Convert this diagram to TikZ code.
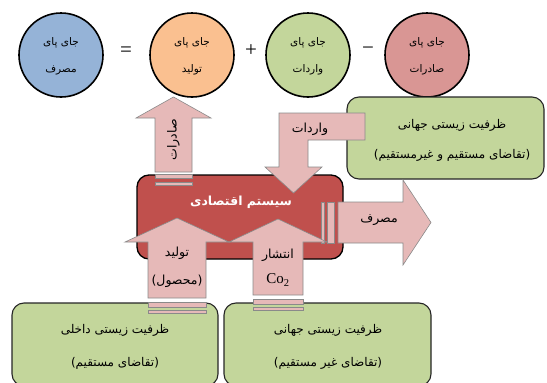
\documentclass[tikz,border=0pt]{standalone}
\usepackage{fontspec}
\setmainfont{Liberation Serif}
\newfontfamily\fa[Script=Arabic]{DejaVu Sans}
\TeXXeTstate=1
\newcommand\fatext[1]{{\fa\beginR #1\endR}}
\definecolor{cblue}{HTML}{95B3D7}
\definecolor{corange}{HTML}{FAC090}
\definecolor{cgreen}{HTML}{C3D69B}
\definecolor{cred}{HTML}{D99694}
\definecolor{csys}{HTML}{C0504D}
\definecolor{cpink}{HTML}{E6B9B8}
\definecolor{cedge}{HTML}{8A8A8A}
\tikzset{
  circ/.style={circle, draw=black, line width=1.6pt, minimum size=84pt, inner sep=0pt},
  op/.style={font=\fontsize{21}{21}\selectfont, inner sep=0pt},
  ctext/.style={font=\fontsize{10.5}{12}\selectfont, inner sep=0pt},
  btext/.style={font=\fontsize{12}{14}\selectfont, inner sep=0pt},
  atext/.style={font=\fontsize{12.5}{14}\selectfont, inner sep=0pt},
  gbox/.style={draw=black!85, line width=1.1pt, fill=cgreen, rounded corners=12pt},
  sysbox/.style={draw=black, line width=1.3pt, fill=csys, rounded corners=12pt},
  parrow/.style={draw=cedge, line width=0.6pt, fill=cpink},
}
\begin{document}
\begin{tikzpicture}[x=1pt,y=-1pt]
\useasboundingbox (0,0) rectangle (547,383);
% top equation
\node[circ, fill=cblue] (cons) at (61,55) {};
\node[circ, fill=corange] (prod) at (192,55) {};
\node[circ, fill=cgreen] (imp) at (308,55) {};
\node[circ, fill=cred] (exp) at (427,55) {};
\node[op] (eq) at (126,52) {=};
\node[op] (plus) at (251,51) {+};
\node[op] (minus) at (368,51) {−};
\node[ctext] (consA) at (61,43) {\fatext{جای پای}};
\node[ctext] (consB) at (61,70) {\fatext{مصرف}};
\node[ctext] (prodA) at (192,43) {\fatext{جای پای}};
\node[ctext] (prodB) at (192,70) {\fatext{تولید}};
\node[ctext] (impA) at (308,43) {\fatext{جای پای}};
\node[ctext] (impB) at (308,70) {\fatext{واردات}};
\node[ctext] (expA) at (427,43) {\fatext{جای پای}};
\node[ctext] (expB) at (427,70) {\fatext{صادرات}};
% boxes
\draw[gbox] (347,97) rectangle (544,179);
\node[btext] (worldA) at (452,125) {\fatext{ظرفیت زیستی جهانی}};
\node[btext] (worldB) at (452,155) {\fatext{(تقاضای مستقیم و غیرمستقیم)}};
\draw[gbox] (12,303) rectangle (218,386);
\node[btext] (domA) at (115,330) {\fatext{ظرفیت زیستی داخلی}};
\node[btext] (domB) at (115,363) {\fatext{(تقاضای مستقیم)}};
\draw[gbox] (224,303) rectangle (431,386);
\node[btext] (globA) at (328,330) {\fatext{ظرفیت زیستی جهانی}};
\node[btext] (globB) at (328,363) {\fatext{(تقاضای غیر مستقیم)}};
\draw[sysbox] (137,175) rectangle (343,259);
\node[font=\fontsize{12.5}{14}\selectfont\bfseries, text=white, inner sep=0pt] (sys) at (241,202) {\fatext{سیستم اقتصادی}};
% export arrow
\draw[parrow] (155,172) -- (155,118) -- (136,118) -- (173.5,97) -- (211,118) -- (192,118) -- (192,172) -- cycle;
\draw[parrow] (155,174) rectangle (192,178.5);
\draw[parrow] (155,182) rectangle (192,185);
\node[atext, rotate=90] (expT) at (173.5,140) {\fatext{صادرات}};
% import arrow
\draw[parrow] (365,113) -- (279,113) -- (279,167) -- (265,167) -- (293.5,193) -- (322,167) -- (308,167) -- (308,140) -- (365,140) -- cycle;
\node[atext] (impT) at (310,129) {\fatext{واردات}};
% consumption arrow
\draw[parrow] (321,202) rectangle (324,243);
\draw[parrow] (327,202) rectangle (334,243);
\draw[parrow] (338,202) -- (403,202) -- (403,180) -- (431,222.5) -- (403,265) -- (403,243) -- (338,243) -- cycle;
\node[atext] (consT) at (379,220) {\fatext{مصرف}};
% production arrow
\draw[parrow] (148,298) -- (148,242) -- (125,242) -- (177,218) -- (229,242) -- (206,242) -- (206,298) -- cycle;
\draw[parrow] (148,302) rectangle (206,307);
\draw[parrow] (148,310) rectangle (206,313);
\node[atext] (prodT1) at (177,253) {\fatext{تولید}};
\node[atext] (prodT2) at (177,281) {\fatext{(محصول)}};
% CO2 arrow
\draw[parrow] (253,295) -- (253,242) -- (229,242) -- (278,219) -- (327,242) -- (303,242) -- (303,295) -- cycle;
\draw[parrow] (253,299) rectangle (303,304);
\draw[parrow] (253,307) rectangle (303,310);
\node[atext] (co2T1) at (278,255) {\fatext{انتشار}};
\node[font=\fontsize{15}{15}\selectfont, inner sep=0pt] (co2T2) at (278,280) {Co\textsubscript{2}};
\end{tikzpicture}
\end{document}
